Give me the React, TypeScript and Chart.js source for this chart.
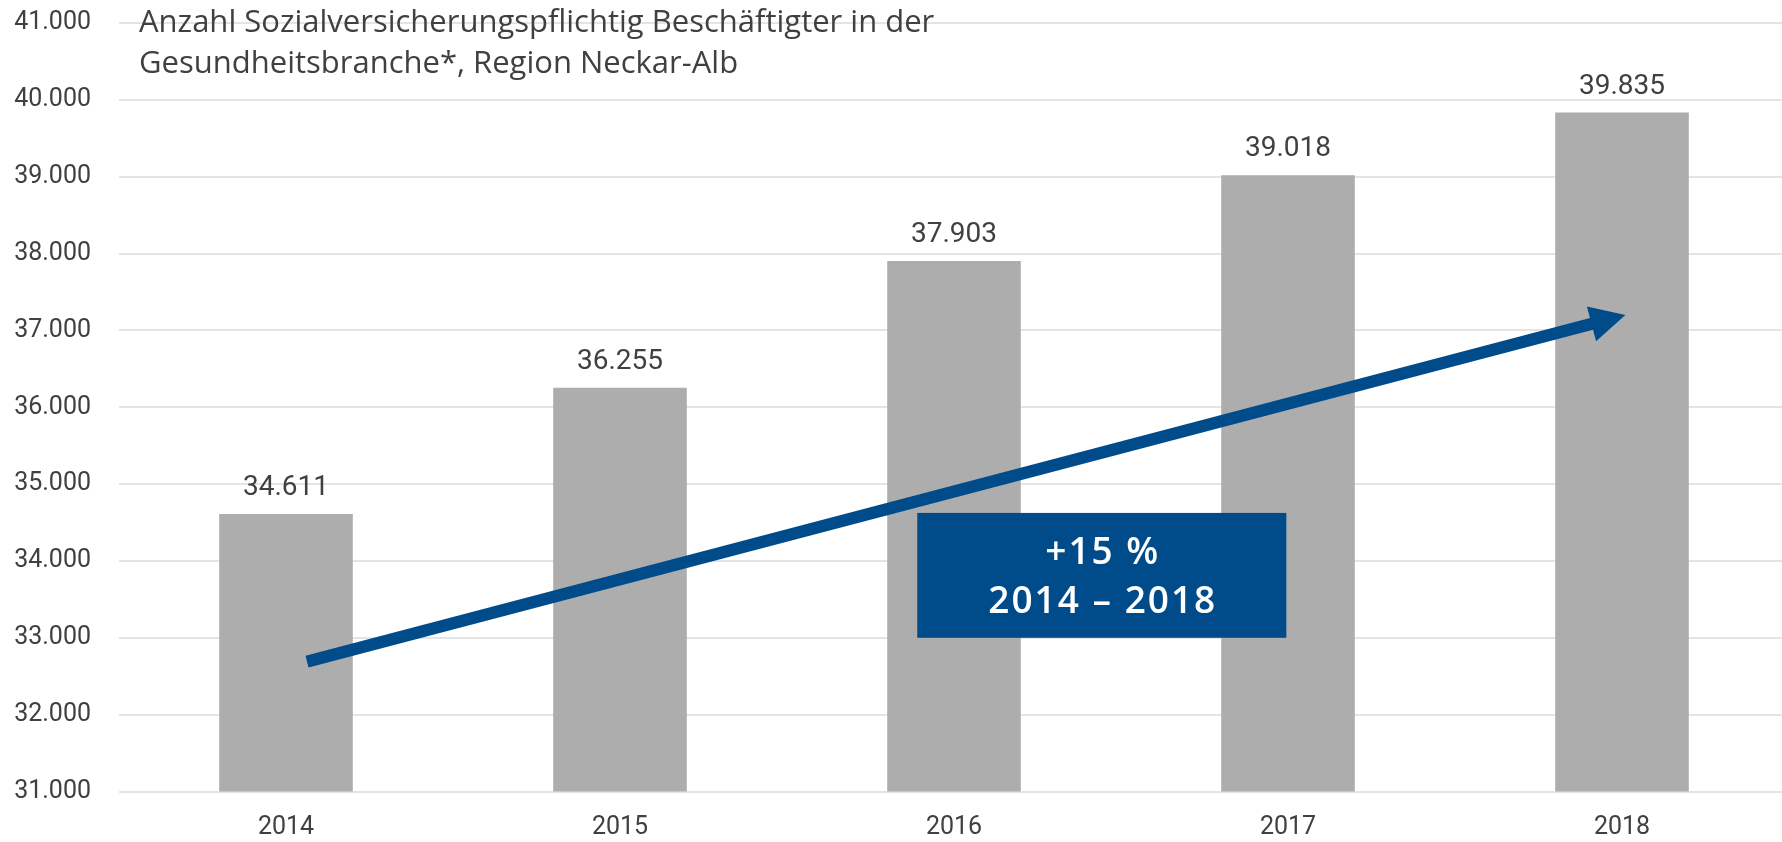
import React, { useEffect, useRef } from "react";
import { Chart, registerables } from "chart.js";

Chart.register(...registerables);

const categories = ["2014", "2015", "2016", "2017", "2018"];
const employees = [34611, 36255, 37903, 39018, 39835];
const yMin = 31000;
const yMax = 41000;
const yStep = 1000;
const titleLines = [
  "Anzahl Sozialversicherungspflichtig Beschäftigter in der",
  "Gesundheitsbranche*, Region Neckar-Alb",
];
// arrow in data units: [category index, value]
const arrowTail = [0.063, 32690];
const arrowTip = [4.01, 37200];
// growth box in data units
const boxX = [1.89, 2.995];
const boxY = [33000, 34625];
const boxLines = ["+15 %", "2014 – 2018"];

const BLUE = "#004B8A";
const TEXT = "#404040";
const FONT = "Roboto, 'Open Sans', sans-serif";
const TITLE_FONT = "'Open Sans', Roboto, sans-serif";

const fmt = (v: number) =>
  String(Math.round(v)).replace(/\B(?=(\d{3})+(?!\d))/g, ".");

const overlayPlugin = {
  id: "overlay",
  afterDatasetsDraw(chart: any) {
    const { ctx, chartArea, scales } = chart;
    const xs = scales.x;
    const ys = scales.y;
    ctx.save();

    // value labels
    const meta = chart.getDatasetMeta(0);
    ctx.fillStyle = TEXT;
    ctx.font = `28px ${FONT}`;
    ctx.textAlign = "center";
    ctx.textBaseline = "alphabetic";
    meta.data.forEach((bar: any, i: number) => {
      ctx.fillText(fmt(employees[i]), bar.x, bar.y - 19);
    });

    // arrow
    const tx = xs.getPixelForValue(arrowTail[0]);
    const ty = ys.getPixelForValue(arrowTail[1]);
    const hx = xs.getPixelForValue(arrowTip[0]);
    const hy = ys.getPixelForValue(arrowTip[1]);
    const ang = Math.atan2(hy - ty, hx - tx);
    const headLen = 35;
    const headHalf = 18;
    const bx = hx - Math.cos(ang) * headLen;
    const by = hy - Math.sin(ang) * headLen;
    ctx.strokeStyle = BLUE;
    ctx.fillStyle = BLUE;
    ctx.lineWidth = 12;
    ctx.lineCap = "butt";
    ctx.beginPath();
    ctx.moveTo(tx, ty);
    ctx.lineTo(bx + Math.cos(ang) * 2, by + Math.sin(ang) * 2);
    ctx.stroke();
    ctx.beginPath();
    ctx.moveTo(hx, hy);
    ctx.lineTo(bx - Math.sin(ang) * headHalf, by + Math.cos(ang) * headHalf);
    ctx.lineTo(bx + Math.sin(ang) * headHalf, by - Math.cos(ang) * headHalf);
    ctx.closePath();
    ctx.fill();

    // box
    const x0 = xs.getPixelForValue(boxX[0]);
    const x1 = xs.getPixelForValue(boxX[1]);
    const y0 = ys.getPixelForValue(boxY[1]);
    const y1 = ys.getPixelForValue(boxY[0]);
    ctx.fillStyle = BLUE;
    ctx.fillRect(x0, y0, x1 - x0, y1 - y0);
    ctx.fillStyle = "#ffffff";
    ctx.font = `600 37px ${TITLE_FONT}`;
    try {
      (ctx as any).letterSpacing = "2px";
    } catch (e) {}
    ctx.textAlign = "center";
    ctx.textBaseline = "middle";
    const cx = (x0 + x1) / 2 + 1;
    const cy = (y0 + y1) / 2;
    ctx.fillText(boxLines[0], cx, cy - 22);
    ctx.fillText(boxLines[1], cx, cy + 27);
    try {
      (ctx as any).letterSpacing = "0px";
    } catch (e) {}

    // title
    ctx.fillStyle = TEXT;
    ctx.font = `31px ${TITLE_FONT}`;
    ctx.textAlign = "left";
    ctx.textBaseline = "alphabetic";
    ctx.fillText(titleLines[0], chartArea.left + 20, chartArea.top + 9);
    ctx.fillText(titleLines[1], chartArea.left + 20, chartArea.top + 50);

    ctx.restore();
  },
};

export default function App() {
  const ref = useRef<HTMLCanvasElement | null>(null);
  useEffect(() => {
    if (!ref.current) return;
    const chart = new Chart(ref.current, {
      type: "bar",
      data: {
        labels: categories,
        datasets: [
          {
            data: employees,
            backgroundColor: "#ADADAD",
            borderWidth: 0,
            barPercentage: 0.4,
            categoryPercentage: 1,
          },
        ],
      },
      options: {
        animation: false,
        responsive: false,
        devicePixelRatio: 1,
        layout: { padding: { top: 23, right: 1, left: 0, bottom: 0 } },
        plugins: {
          legend: { display: false },
          tooltip: { enabled: false },
          title: { display: false },
        },
        scales: {
          x: {
            grid: { display: false, drawTicks: false },
            border: { display: false },
            ticks: {
              color: TEXT,
              font: { family: FONT, size: 25 },
              padding: 21,
              maxRotation: 0,
            },
            afterFit: (s: any) => {
              s.height = 50.5;
              s.paddingLeft = 0;
              s.paddingRight = 0;
            },
          },
          y: {
            min: yMin,
            max: yMax,
            grid: { color: "#E4E4E4", lineWidth: 2, drawTicks: false },
            border: { display: false },
            ticks: {
              stepSize: yStep,
              color: TEXT,
              font: { family: FONT, size: 25 },
              padding: 28,
              callback: (v: any) => fmt(Number(v)),
            },
            afterFit: (s: any) => {
              s.width = 119;
              s.paddingTop = 0;
              s.paddingBottom = 0;
            },
          },
        },
      },
      plugins: [overlayPlugin],
    });
    return () => chart.destroy();
  }, []);
  return (
    <div style={{ position: "fixed", left: 0, top: 0, width: 1790, height: 842, background: "#fff" }}>
      <canvas ref={ref} width={1790} height={842} style={{ display: "block" }} />
    </div>
  );
}
